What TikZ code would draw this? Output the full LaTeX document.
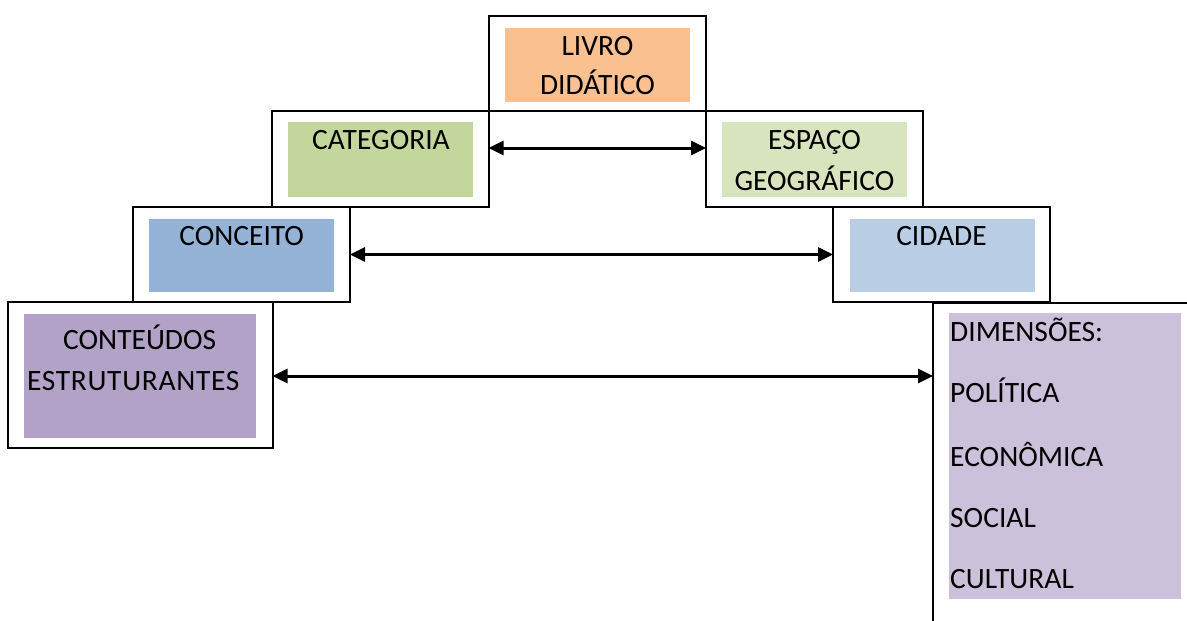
\documentclass[tikz,border=0pt]{standalone}
\usepackage{fontspec}
\setmainfont{Carlito}
\usetikzlibrary{arrows.meta}
\definecolor{cOrange}{HTML}{FAC090}
\definecolor{cGreen}{HTML}{C3D69B}
\definecolor{cLGreen}{HTML}{D7E4BD}
\definecolor{cBlue}{HTML}{95B3D7}
\definecolor{cLBlue}{HTML}{B9CDE5}
\definecolor{cPurple}{HTML}{B3A2C7}
\definecolor{cLPurple}{HTML}{CCC1DA}
\begin{document}
\begin{tikzpicture}[x=1pt,y=-1pt,
  outerbox/.style={draw=black,line width=2pt,fill=white,inner sep=0pt,outer sep=0pt},
  innerbox/.style={inner sep=0pt,outer sep=0pt},
  txt/.style={anchor=base,inner sep=0pt,font=\fontsize{29.5}{34}\selectfont},
  ltxt/.style={anchor=base west,inner sep=0pt,font=\fontsize{29.5}{34}\selectfont},
  biarrow/.style={line width=3pt,{Triangle[length=15pt,width=14pt]}-{Triangle[length=15pt,width=14pt]}}]
\useasboundingbox (0,0) rectangle (1187,621);
% outer boxes
\node[outerbox,minimum width=217pt,minimum height=95pt] (livroO) at (597.5,63.5) {};
\node[outerbox,minimum width=217pt,minimum height=96pt] (catO) at (380,159) {};
\node[outerbox,minimum width=217pt,minimum height=96pt] (espO) at (814.5,159) {};
\node[outerbox,minimum width=217pt,minimum height=95pt] (concO) at (241.5,254.5) {};
\node[outerbox,minimum width=217pt,minimum height=95pt] (cidO) at (941.5,254.5) {};
\node[outerbox,minimum width=265pt,minimum height=146pt] (contO) at (140,375) {};
\coordinate (dimTR) at (1187,303);
\coordinate (dimTL) at (933,303);
\coordinate (dimBL) at (933,621);
\draw[line width=2pt] (dimTR) -- (dimTL) -- (dimBL);
% inner coloured boxes
\node[innerbox,fill=cOrange,minimum width=185pt,minimum height=74pt] (livroI) at (597.5,64.5) {};
\node[innerbox,fill=cGreen,minimum width=185pt,minimum height=75pt] (catI) at (380,159.5) {};
\node[innerbox,fill=cLGreen,minimum width=185pt,minimum height=75pt] (espI) at (814.5,159.5) {};
\node[innerbox,fill=cBlue,minimum width=185pt,minimum height=73pt] (concI) at (241.5,255) {};
\node[innerbox,fill=cLBlue,minimum width=185pt,minimum height=73pt] (cidI) at (942.5,255) {};
\node[innerbox,fill=cPurple,minimum width=232pt,minimum height=124pt] (contI) at (140,375.5) {};
\node[innerbox,fill=cLPurple,minimum width=232pt,minimum height=286pt] (dimI) at (1065,455.5) {};
% texts
\node[txt] (t1) at (597.5,55) {LIVRO};
\node[txt] (t2) at (597.5,94.3) {DIDÁTICO};
\node[txt] (t3) at (381,149.3) {CATEGORIA};
\node[txt] (t4) at (814.5,149.3) {ESPAÇO};
\node[txt] (t5) at (814.5,190.5) {GEOGRÁFICO};
\node[txt] (t6) at (241.7,245.7) {CONCEITO};
\node[txt] (t7) at (941.5,245) {CIDADE};
\node[txt] (t8) at (139.7,349.3) {CONTEÚDOS};
\node[txt] (t9) at (133.3,390) {\addfontfeature{LetterSpace=2.3}ESTRUTURANTES};
\node[ltxt] (d1) at (950,341.7) {DIMENSÕES:};
\node[ltxt] (d2) at (950,402.7) {POLÍTICA};
\node[ltxt] (d3) at (950,466.7) {ECONÔMICA};
\node[ltxt] (d4) at (950,527.3) {SOCIAL};
\node[ltxt] (d5) at (950,588.3) {CULTURAL};
% arrows
\draw[biarrow] ([yshift=11pt]catO.east) -- ([yshift=11pt]espO.west);
\draw[biarrow] (concO.east) -- (cidO.west);
\coordinate (dimArrow) at (933,376);
\draw[biarrow] ([yshift=-1pt]contO.east) -- (dimArrow);
\end{tikzpicture}
\end{document}
